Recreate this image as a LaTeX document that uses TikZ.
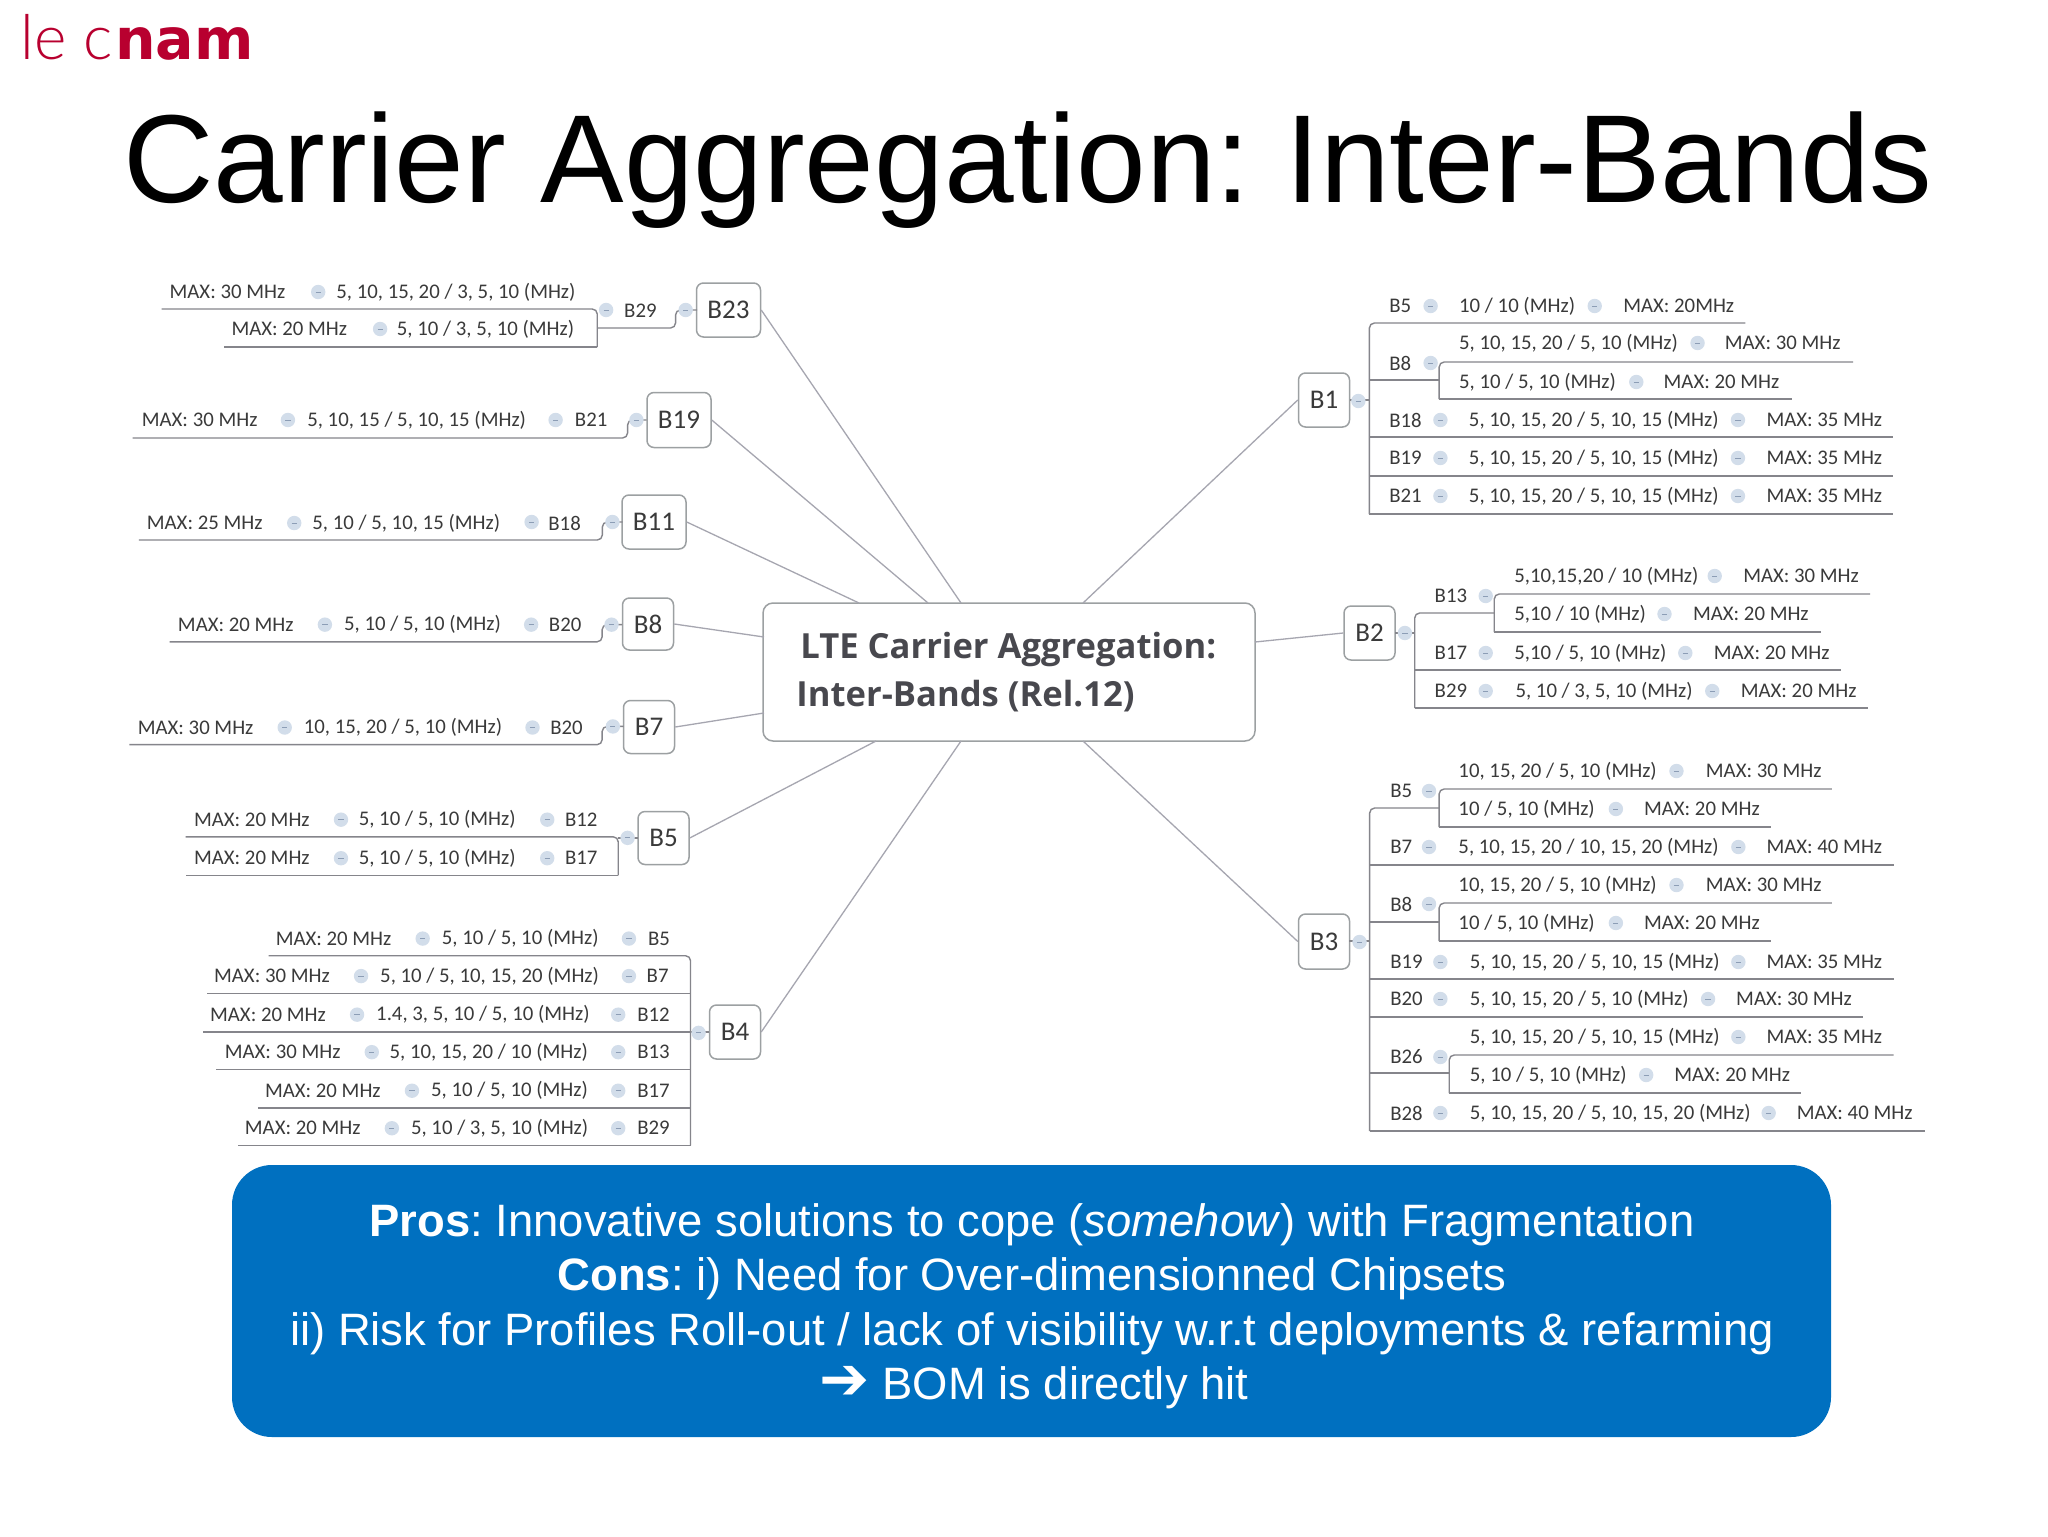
\documentclass[tikz,border=0pt]{standalone}
\usepackage{fontspec}
\setmainfont{Liberation Sans}
\newfontfamily\rowfont{Carlito}
\newfontfamily\hubfont{Open Sans}
\newfontfamily\logolight{Lato Light}
\newfontfamily\logobold{DejaVu Sans}
\newfontfamily\arrowfont{DejaVu Sans}
\newcounter{tc}
\definecolor{wirec}{HTML}{85858B}
\definecolor{linkc}{HTML}{A6A6B0}
\definecolor{boxc}{HTML}{9CA0A2}
\definecolor{txtc}{HTML}{3A3A3A}
\definecolor{hubtxt}{HTML}{48484E}
\definecolor{dotc}{HTML}{D2DDEA}
\definecolor{dashc}{HTML}{8C9DB5}
\definecolor{cnamc}{HTML}{B8002F}
\definecolor{panelc}{HTML}{0070C0}
\tikzset{
  x=0.5pt,y=-0.5pt,
  rowtext/.style={anchor=west,inner sep=0pt,text=txtc,font=\rowfont\fontsize{10.4}{12}\selectfont},
  dotmark/.style={circle,fill=dotc,minimum size=7.2pt,inner sep=0pt,
    path picture={\draw[dashc,line width=0.5pt] (path picture bounding box.center) ++(-1.3pt,0) -- ++(2.6pt,0);}},
  bandbox/.style={draw=boxc,line width=0.75pt,rounded corners=3.5pt,fill=white,inner sep=0pt,text=txtc,font=\rowfont\fontsize{13.5}{16}\selectfont},
  wire/.style={draw=wirec,line width=0.7pt,rounded corners=2.5pt},
  link/.style={draw=linkc,line width=0.65pt},
  hub/.style={draw=boxc,line width=0.75pt,rounded corners=5pt,fill=white,minimum width=246pt,minimum height=69pt,inner sep=0pt},
  hubtext/.style={anchor=base west,inner sep=0pt,text=hubtxt,font=\hubfont\bfseries\fontsize{17.3}{20}\selectfont},
  paneltext/.style={anchor=base,inner sep=0pt,text=white,font=\fontsize{22.7}{27}\selectfont},
  leftA/.style={x=0.6313pt,xshift=-15.756pt},
  leftB/.style={x=0.66965pt,xshift=-20.36pt,y=-0.5357pt,yshift=21.42pt},
  rightA/.style={x=0.61225pt,xshift=-143.68pt},
  rightB/.style={x=0.6313pt,xshift=-168.06pt}
}
% text and dot with automatic names
\newcommand{\tx}[3]{\stepcounter{tc}\node[rowtext] (t\thetc) at (#1,#2) {#3};}
\newcommand{\dt}[2]{\stepcounter{tc}\node[dotmark] (t\thetc) at (#1,#2) {};}
% two- and three-point wires between named coordinates
\newcommand{\wa}[2]{\stepcounter{tc}\coordinate (a\thetc) at (#1);\coordinate (b\thetc) at (#2);\draw[wire] (a\thetc) -- (b\thetc);}
\newcommand{\wb}[3]{\stepcounter{tc}\coordinate (a\thetc) at (#1);\coordinate (b\thetc) at (#2);\coordinate (c\thetc) at (#3);\draw[wire] (a\thetc) -- (b\thetc) -- (c\thetc);}
\newcommand{\wc}[4]{\stepcounter{tc}\coordinate (a\thetc) at (#1);\coordinate (b\thetc) at (#2);\coordinate (c\thetc) at (#3);\coordinate (d\thetc) at (#4);\draw[wire] (a\thetc) -- (b\thetc) -- (c\thetc) -- (d\thetc);}
% row: y, first x, first text, dot x, second x, second text
\newcommand{\rr}[6]{\tx{#2}{#1}{#3}\dt{#4}{#1}\tx{#5}{#1}{#6}}
\newcommand{\lr}[6]{\tx{#2}{#1}{#3}\dt{#4}{#1}\tx{#5}{#1}{#6}}
\begin{document}
\frenchspacing
\begin{tikzpicture}
\useasboundingbox (0,0) rectangle (2048,1536);
\fill[white] (0,0) rectangle (2048,1536);
% logo
\node[anchor=base west,inner sep=0pt,text=cnamc,font=\logolight\fontsize{31}{31}\selectfont] (logoa) at (20,60) {le c};
\node[anchor=base west,inner sep=0pt,text=cnamc,font=\logobold\bfseries\fontsize{28.5}{28}\selectfont] (logob) at (115,60) {nam};
% title
\node[anchor=base west,inner sep=0pt,font=\fontsize{62.6}{70}\selectfont] (title) at (123,202) {Carrier Aggregation: Inter-Bands};
% hub
\node[hub] (hub) at (1009,672) {};
\node[hubtext] (hub1) at (800,658) {LTE Carrier Aggregation:};
\node[hubtext] (hub2) at (796,706) {Inter-Bands (Rel.12)};
% band boxes
\node[bandbox,minimum width=32pt,minimum height=27pt] (B23) at (728.5,310) {B23};
\node[bandbox,minimum width=32pt,minimum height=27.5pt] (B19) at (679,420) {B19};
\node[bandbox,minimum width=32pt,minimum height=27pt] (B11) at (654,522) {B11};
\node[bandbox,minimum width=25.5pt,minimum height=26pt] (B8) at (648,624) {B8};
\node[bandbox,minimum width=25.5pt,minimum height=26.5pt] (B7) at (649,727) {B7};
\node[bandbox,minimum width=25.5pt,minimum height=26.5pt] (B5) at (663.5,838) {B5};
\node[bandbox,minimum width=25.5pt,minimum height=27pt] (B4) at (735,1032) {B4};
\node[bandbox,minimum width=25.5pt,minimum height=27pt] (B1) at (1324,400) {B1};
\node[bandbox,minimum width=25.5pt,minimum height=27pt] (B2) at (1369.5,633) {B2};
\node[bandbox,minimum width=25.5pt,minimum height=27.5pt] (B3) at (1324,941.5) {B3};
% hub links
\coordinate (h23) at (961,603);
\coordinate (h19) at (928,603);
\coordinate (h11) at (859,603);
\coordinate (h8) at (764,637);
\coordinate (h7) at (764,713);
\coordinate (h5) at (876,741);
\coordinate (h4) at (961,741);
\coordinate (h1) at (1083,603);
\coordinate (h2) at (1255,642);
\coordinate (h3) at (1083,741);
\draw[link] (B23.east) -- (h23);
\draw[link] (B19.east) -- (h19);
\draw[link] (B11.east) -- (h11);
\draw[link] (B8.east) -- (h8);
\draw[link] (B7.east) -- (h7);
\draw[link] (B5.east) -- (h5);
\draw[link] (B4.east) -- (h4);
\draw[link] (B1.west) -- (h1);
\draw[link] (B2.west) -- (h2);
\draw[link] (B3.west) -- (h3);
\begin{scope}[leftA]
% B23 branch
\lr{292}{159}{MAX: 30 MHz}{277}{291}{5, 10, 15, 20 / 3, 5, 10 (MHz)}
\lr{329}{208}{MAX: 20 MHz}{326}{339}{5, 10 / 3, 5, 10 (MHz)}
\wb{153,309}{498,309}{498,347}
\wa{498,347}{202,347}
\wc{498,328}{560,328}{560,310}{577,310}
\dt{505}{310}\tx{519}{311}{B29}\dt{568}{310}
% B19 branch
\lr{420}{137}{MAX: 30 MHz}{253}{268}{5, 10, 15 / 5, 10, 15 (MHz)}
\dt{465}{420}\tx{480}{420}{B21}
\wc{130,438}{522,438}{522,420}{537,420}
\dt{529}{420}
% B11 branch
\lr{523}{141}{MAX: 25 MHz}{258}{272}{5, 10 / 5, 10, 15 (MHz)}
\dt{446}{522}\tx{459}{523}{B18}
\wc{135,540}{502,540}{502,522}{518,522}
\dt{510}{522}
\end{scope}
\begin{scope}[leftB]
% B8 branch
\lr{623}{163}{MAX: 20 MHz}{273}{287}{5, 10 / 5, 10 (MHz)}
\dt{427}{623}\tx{440}{623}{B20}
\wc{157,639}{480,639}{480,623}{495,623}
\dt{487}{623}
% B7 branch
\lr{719}{133}{MAX: 30 MHz}{243}{257}{10, 15, 20 / 5, 10 (MHz)}
\dt{428}{719}\tx{441}{719}{B20}
\wc{127,735}{480,735}{480,718}{496,718}
\dt{488}{718}
% B5 branch
\lr{805}{175}{MAX: 20 MHz}{285}{298}{5, 10 / 5, 10 (MHz)}
\dt{439}{805}\tx{452}{805}{B12}
\lr{841}{175}{MAX: 20 MHz}{285}{298}{5, 10 / 5, 10 (MHz)}
\dt{439}{841}\tx{452}{841}{B17}
\wb{169,821}{492,821}{492,857}
\wa{492,857}{169,857}
\wa{492,822}{507,822}
\dt{499}{822}
% B4 branch
\lr{916}{236}{MAX: 20 MHz}{346}{360}{5, 10 / 5, 10 (MHz)}
\dt{500}{916}\tx{514}{916}{B5}
\lr{951}{190}{MAX: 30 MHz}{300}{314}{5, 10 / 5, 10, 15, 20 (MHz)}
\dt{500}{951}\tx{513}{951}{B7}
\lr{987}{187}{MAX: 20 MHz}{297}{311}{1.4, 3, 5, 10 / 5, 10 (MHz)}
\dt{492}{987}\tx{506}{987}{B12}
\lr{1022}{198}{MAX: 30 MHz}{308}{321}{5, 10, 15, 20 / 10 (MHz)}
\dt{492}{1022}\tx{506}{1022}{B13}
\lr{1058}{228}{MAX: 20 MHz}{338}{352}{5, 10 / 5, 10 (MHz)}
\dt{492}{1058}\tx{506}{1058}{B17}
\lr{1093}{213}{MAX: 20 MHz}{323}{337}{5, 10 / 3, 5, 10 (MHz)}
\dt{492}{1093}\tx{506}{1093}{B29}
\wb{231,932}{546,932}{546,1109}
\wa{546,1109}{208,1109}
\wa{185,967}{546,967}
\wa{182,1003}{560,1003}
\wa{192,1038}{546,1038}
\wa{223,1074}{546,1074}
\dt{552}{1004}
\end{scope}
\begin{scope}[rightA]
% B1 branch
\wa{1337,400}{1353,400}
\dt{1344}{401}
\wb{1660,323}{1353,323}{1353,514}
\wa{1353,514}{1781,514}
\wa{1353,437}{1781,437}
\wa{1353,476}{1781,476}
\wa{1353,380}{1410,380}
\wb{1748,362}{1410,362}{1410,399}
\wa{1410,399}{1698,399}
\tx{1369}{306}{B5}\dt{1403}{306}
\rr{306}{1426}{10 / 10 (MHz)}{1537}{1560}{MAX: 20MHz}
\tx{1369}{363}{B8}\dt{1403}{363}
\rr{343}{1426}{5, 10, 15, 20 / 5, 10 (MHz)}{1621}{1643}{MAX: 30 MHz}
\rr{382}{1426}{5, 10 / 5, 10 (MHz)}{1571}{1593}{MAX: 20 MHz}
\tx{1369}{420}{B18}\dt{1411}{420}
\rr{420}{1434}{5, 10, 15, 20 / 5, 10, 15 (MHz)}{1654}{1677}{MAX: 35 MHz}
\tx{1369}{458}{B19}\dt{1411}{458}
\rr{458}{1434}{5, 10, 15, 20 / 5, 10, 15 (MHz)}{1654}{1677}{MAX: 35 MHz}
\tx{1369}{496}{B21}\dt{1411}{496}
\rr{496}{1434}{5, 10, 15, 20 / 5, 10, 15 (MHz)}{1654}{1677}{MAX: 35 MHz}
% B2 branch
\wa{1374,633}{1390,633}
\dt{1382}{633}
\wb{1455,613}{1390,613}{1390,708}
\wa{1390,708}{1760,708}
\wa{1390,670}{1738,670}
\wb{1762,594}{1455,594}{1455,632}
\wa{1455,632}{1722,632}
\tx{1406}{596}{B13}\dt{1448}{596}
\rr{576}{1471}{5,10,15,20 / 10 (MHz)}{1635}{1658}{MAX: 30 MHz}
\rr{614}{1471}{5,10 / 10 (MHz)}{1594}{1617}{MAX: 20 MHz}
\tx{1406}{653}{B17}\dt{1448}{653}
\rr{653}{1471}{5,10 / 5, 10 (MHz)}{1611}{1634}{MAX: 20 MHz}
\tx{1406}{691}{B29}\dt{1448}{691}
\rr{691}{1472}{5, 10 / 3, 5, 10 (MHz)}{1633}{1656}{MAX: 20 MHz}
\end{scope}
\begin{scope}[rightB]
% B3 branch
\wa{1335,941}{1351,941}
\dt{1343}{942}
\wb{1406,808}{1351,808}{1351,1131}
\wa{1351,1131}{1791,1131}
\wa{1351,865}{1766,865}
\wa{1351,922}{1406,922}
\wa{1351,979}{1766,979}
\wa{1351,1017}{1742,1017}
\wa{1351,1073}{1414,1073}
\wb{1717,789}{1406,789}{1406,827}
\wa{1406,827}{1669,827}
\wb{1717,903}{1406,903}{1406,941}
\wa{1406,941}{1669,941}
\wb{1766,1055}{1414,1055}{1414,1093}
\wa{1414,1093}{1693,1093}
\tx{1367}{791}{B5}\dt{1398}{791}
\rr{771}{1421}{10, 15, 20 / 5, 10 (MHz)}{1594}{1617}{MAX: 30 MHz}
\rr{809}{1421}{10 / 5, 10 (MHz)}{1546}{1568}{MAX: 20 MHz}
\tx{1367}{847}{B7}\dt{1398}{847}
\rr{847}{1421}{5, 10, 15, 20 / 10, 15, 20 (MHz)}{1643}{1665}{MAX: 40 MHz}
\tx{1367}{904}{B8}\dt{1398}{904}
\rr{885}{1421}{10, 15, 20 / 5, 10 (MHz)}{1594}{1617}{MAX: 30 MHz}
\rr{923}{1421}{10 / 5, 10 (MHz)}{1546}{1568}{MAX: 20 MHz}
\tx{1367}{962}{B19}\dt{1407}{962}
\rr{962}{1430}{5, 10, 15, 20 / 5, 10, 15 (MHz)}{1643}{1665}{MAX: 35 MHz}
\tx{1367}{999}{B20}\dt{1407}{999}
\rr{999}{1430}{5, 10, 15, 20 / 5, 10 (MHz)}{1619}{1641}{MAX: 30 MHz}
\tx{1367}{1057}{B26}\dt{1407}{1057}
\rr{1037}{1430}{5, 10, 15, 20 / 5, 10, 15 (MHz)}{1643}{1665}{MAX: 35 MHz}
\rr{1075}{1430}{5, 10 / 5, 10 (MHz)}{1570}{1592}{MAX: 20 MHz}
\tx{1367}{1113}{B28}\dt{1407}{1113}
\rr{1113}{1430}{5, 10, 15, 20 / 5, 10, 15, 20 (MHz)}{1667}{1689}{MAX: 40 MHz}
\end{scope}
% panel
\fill[panelc,rounded corners=20pt] (232,1165) rectangle (1831,1437);
\node[paneltext] (p1) at (1032,1236) {\textbf{Pros}: Innovative solutions to cope (\textit{somehow}) with Fragmentation};
\node[paneltext] (p2) at (1032,1290) {\textbf{Cons}: i) Need for Over-dimensionned Chipsets};
\node[paneltext] (p3) at (1032,1345) {ii) Risk for Profiles Roll-out / lack of visibility w.r.t deployments \& refarming};
\node[paneltext] (p4) at (1034,1399) {{\arrowfont\bfseries\fontsize{30}{30}\selectfont ➔}\ BOM is directly hit};
\end{tikzpicture}
\end{document}
